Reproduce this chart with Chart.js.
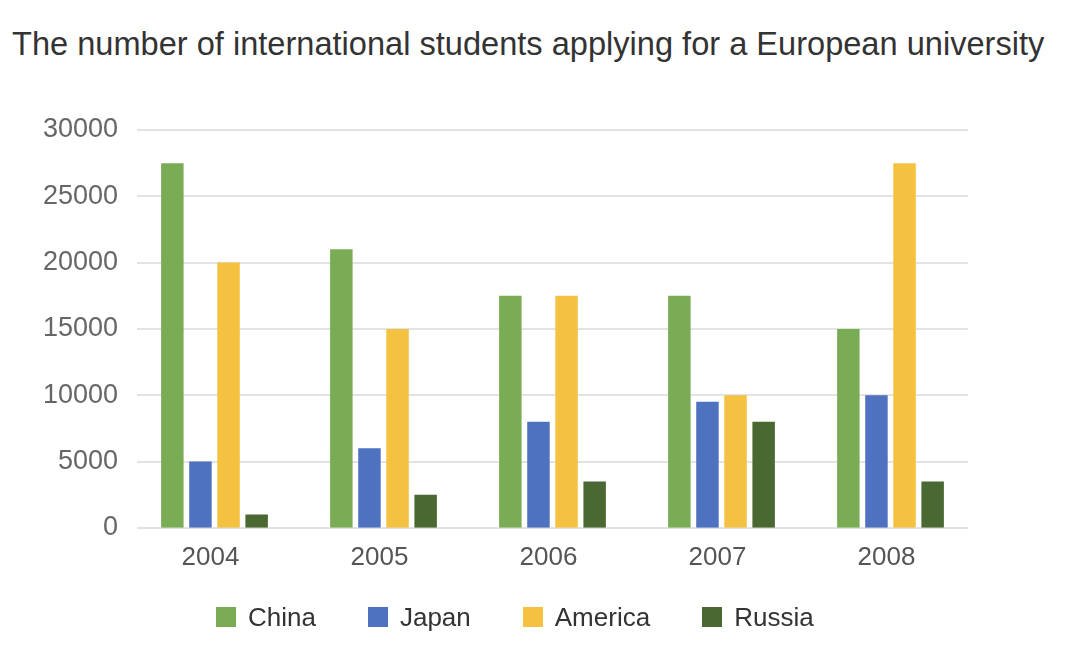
<!DOCTYPE html>
<html>
<head>
<meta charset="utf-8">
<script src="https://cdn.jsdelivr.net/npm/chart.js@4"></script>
<style>
  html, body { margin: 0; padding: 0; background: #fff; }
  .wrap { position: relative; width: 1068px; height: 662px; font-family: "Liberation Sans", Arial, sans-serif; }
  .title {
    position: absolute; left: 12px; top: 25px; margin: 0;
    font-size: 32.6px; font-weight: normal; color: #333; white-space: nowrap;
  }
  canvas { position: absolute; left: 0; top: 0; }
  .legend {
    position: absolute; left: 216px; top: 602px;
    display: flex; gap: 52px; font-size: 26px; color: #333; line-height: 30px;
  }
  .legend span { display: inline-flex; align-items: center; }
  .legend .dot { width: 20px; height: 20px; margin-right: 12px; }
</style>
</head>
<body>
<div class="wrap">
  <h1 class="title">The number of international students applying for a European university</h1>
  <canvas id="chart" width="1068" height="662"></canvas>
  <div class="legend" id="legend"></div>
</div>
<script>
const years = ["2004", "2005", "2006", "2007", "2008"];
const china = [27500, 21000, 17500, 17500, 15000];
const japan = [5000, 6000, 8000, 9500, 10000];
const america = [20000, 15000, 17500, 10000, 27500];
const russia = [1000, 2500, 3500, 8000, 3500];

const font = "'Liberation Sans', Arial, sans-serif";
const colors = { China: "#7aab55", Japan: "#4e71c0", America: "#f4c141", Russia: "#4a6832" };

function bars(label, data) {
  return {
    label,
    data,
    backgroundColor: colors[label],
    borderWidth: 0,
    categoryPercentage: 0.665,
    barPercentage: 0.8,
  };
}

// grid lines are a bit shorter than the category axis in the original
const insetGrid = {
  id: "insetGrid",
  beforeDatasetsDraw(chart) {
    const { ctx, chartArea, scales } = chart;
    ctx.save();
    ctx.strokeStyle = "#e3e3e3";
    ctx.lineWidth = 2;
    scales.y.ticks.forEach((t) => {
      const y = Math.round(scales.y.getPixelForValue(t.value));
      ctx.beginPath();
      ctx.moveTo(chartArea.left + 7, y);
      ctx.lineTo(chartArea.right - 7, y);
      ctx.stroke();
    });
    ctx.restore();
  },
};

const datasets = [
  bars("China", china),
  bars("Japan", japan),
  bars("America", america),
  bars("Russia", russia),
];

new Chart(document.getElementById("chart"), {
  type: "bar",
  data: { labels: years, datasets },
  plugins: [insetGrid],
  options: {
    responsive: false,
    animation: false,
    layout: { padding: { left: 0, right: 93, top: 130, bottom: 75 } },
    plugins: {
      legend: { display: false },
      tooltip: { enabled: false },
    },
    scales: {
      x: {
        grid: { display: false, drawTicks: false },
        border: { display: false },
        ticks: { color: "#555", padding: 14, labelOffset: -4, font: { family: font, size: 26 } },
      },
      y: {
        min: 0,
        max: 30000,
        afterFit(scale) { scale.width = 130; },
        grid: { display: false, drawTicks: false },
        border: { display: false },
        ticks: {
          stepSize: 5000,
          color: "#666",
          padding: 12,
          font: { family: font, size: 27 },
          callback: (v) => String(v),
        },
      },
    },
  },
});

document.getElementById("legend").innerHTML = datasets
  .map((d) => `<span><span class="dot" style="background:${d.backgroundColor}"></span>${d.label}</span>`)
  .join("");
</script>
</body>
</html>
